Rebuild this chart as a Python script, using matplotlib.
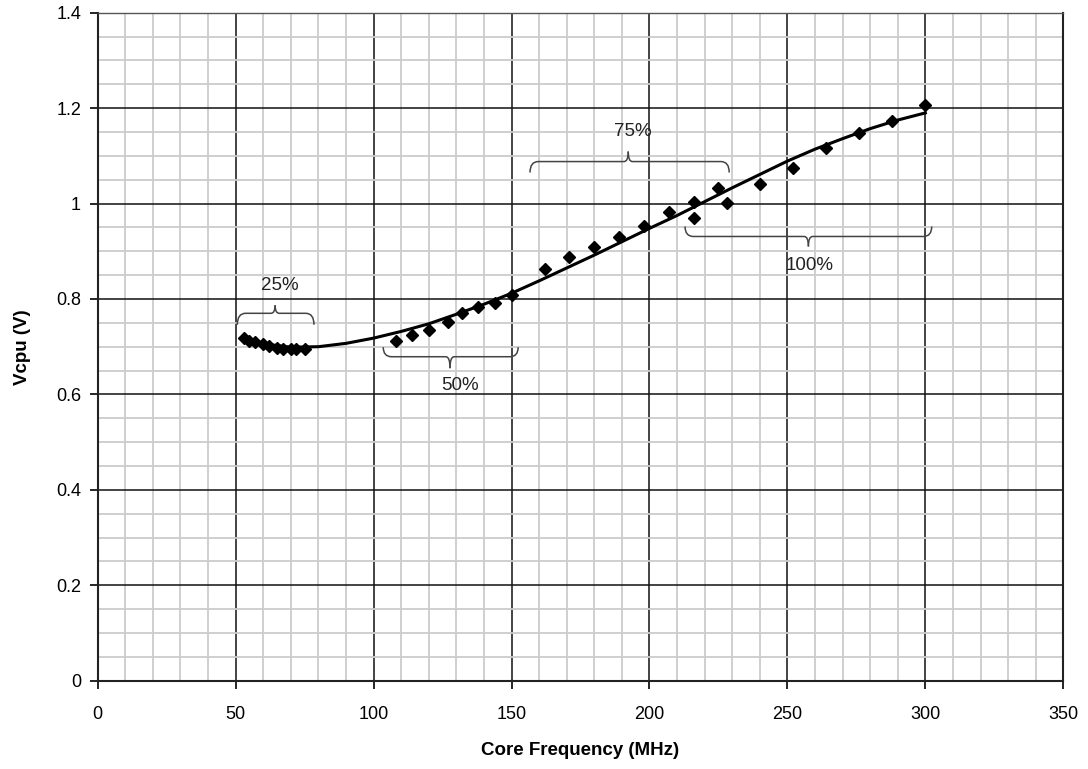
import matplotlib
matplotlib.use("Agg")
import matplotlib.pyplot as plt
from matplotlib.ticker import MultipleLocator, FuncFormatter
from matplotlib.path import Path
from matplotlib.patches import PathPatch

plt.rcParams['font.family'] = ['Liberation Sans', 'DejaVu Sans']

# Measured points (Core frequency MHz, Vcpu V)
freq = [53, 55, 57, 60, 62, 65, 67, 70, 72, 75,
        108, 114, 120, 127, 132, 138, 144, 150,
        162, 171, 180, 189, 198, 207, 216, 225, 228,
        216, 240, 252, 264, 276, 288, 300]
vcpu = [0.718, 0.712, 0.710, 0.706, 0.702, 0.698, 0.695, 0.695, 0.695, 0.695,
        0.712, 0.725, 0.735, 0.752, 0.770, 0.784, 0.791, 0.808,
        0.862, 0.889, 0.908, 0.929, 0.953, 0.982, 1.004, 1.033, 1.002,
        0.969, 1.040, 1.074, 1.116, 1.147, 1.173, 1.207]

# Trend curve
curve_x = [53, 60, 70, 80, 90, 100, 110, 120, 130, 140, 150, 160, 170, 180,
           190, 200, 210, 220, 230, 240, 250, 260, 270, 280, 290, 300]
curve_y = [0.715, 0.706, 0.699, 0.700, 0.707, 0.718, 0.732, 0.748, 0.768,
           0.789, 0.812, 0.838, 0.865, 0.892, 0.920, 0.948, 0.975, 1.004,
           1.033, 1.061, 1.089, 1.114, 1.136, 1.157, 1.175, 1.190]

# Braces: label, x-left, x-right, x-tip, end y, line y, tip y, label x, label y
brace_labels = ['25%', '50%', '75%', '100%']
brace_x0 = [50.6, 103.5, 156.7, 212.9]
brace_x1 = [78.4, 152.4, 228.9, 302.3]
brace_xt = [64.3, 127.7, 192.3, 257.6]
brace_ye = [0.746, 0.699, 1.065, 0.952]
brace_yl = [0.770, 0.679, 1.088, 0.931]
brace_yt = [0.787, 0.655, 1.109, 0.910]
label_x = [66, 131.3, 194.1, 258.2]
label_y = [0.829, 0.618, 1.151, 0.871]

fig = plt.figure(figsize=(10.88, 7.69), dpi=100)
ax = fig.add_axes([0.0898, 0.1148, 0.8875, 0.8687])

ax.set_xlim(0, 350)
ax.set_ylim(0, 1.4)
ax.xaxis.set_major_locator(MultipleLocator(50))
ax.xaxis.set_minor_locator(MultipleLocator(10))
ax.yaxis.set_major_locator(MultipleLocator(0.2))
ax.yaxis.set_minor_locator(MultipleLocator(0.05))
ax.grid(which='minor', color='#cccccc', linewidth=1.3, zorder=0)
ax.grid(which='major', color='#111111', linewidth=1.1, zorder=0.5)
ax.set_axisbelow(True)

def yfmt(v, pos):
    s = f"{v:.1f}"
    if s.endswith('.0'):
        s = s[:-2]
    return s
ax.yaxis.set_major_formatter(FuncFormatter(yfmt))
ax.tick_params(which='major', direction='out', length=6, width=1.2, labelsize=13)
ax.tick_params(axis='x', which='major', pad=12)
ax.tick_params(axis='y', which='major', pad=6)
ax.tick_params(which='minor', length=0)
for s in ['left', 'bottom', 'right']:
    ax.spines[s].set_color('#222222')
    ax.spines[s].set_linewidth(1.5)
ax.spines['top'].set_color('#555555')
ax.spines['top'].set_linewidth(1.0)

ax.plot(curve_x, curve_y, color='black', linewidth=2.2, zorder=3)
ax.plot(freq, vcpu, linestyle='none', marker='D', markersize=6, color='black', zorder=4)

for i, lab in enumerate(brace_labels):
    x0, x1, xt = brace_x0[i], brace_x1[i], brace_xt[i]
    ye, yl, yt = brace_ye[i], brace_yl[i], brace_yt[i]
    dx = 3.0
    left = Path([(x0, ye), (x0, yl), (x0 + dx, yl), (xt - 1.5, yl), (xt, yl), (xt, yt)],
                [Path.MOVETO, Path.CURVE3, Path.CURVE3, Path.LINETO, Path.CURVE3, Path.CURVE3])
    right = Path([(x1, ye), (x1, yl), (x1 - dx, yl), (xt + 1.5, yl), (xt, yl), (xt, yt)],
                 [Path.MOVETO, Path.CURVE3, Path.CURVE3, Path.LINETO, Path.CURVE3, Path.CURVE3])
    for p in (left, right):
        ax.add_patch(PathPatch(p, facecolor='none', edgecolor='#444444', linewidth=1.1, zorder=2))
    ax.text(label_x[i], label_y[i], lab, ha='center', va='center', fontsize=13.5, color='#222222')

ax.set_xlabel('Core Frequency (MHz)', fontsize=13.5, fontweight='bold', labelpad=14)
ax.set_ylabel('Vcpu (V)', fontsize=13.5, fontweight='bold', labelpad=18)

fig.savefig('out.png', dpi=100)
